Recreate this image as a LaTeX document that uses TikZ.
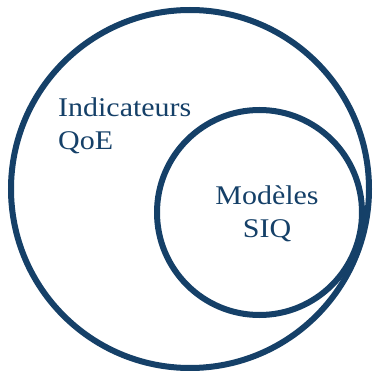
\documentclass[tikz,border=0pt]{standalone}
\usepackage{fontspec}
\setmainfont[FakeStretch=1.11]{Liberation Serif}
\definecolor{navy}{RGB}{21,64,104}
\begin{document}
\begin{tikzpicture}[x=1pt,y=1pt,
  ring/.style={draw=navy,line width=6pt},
  lbl/.style={text=navy,font=\fontsize{27}{33}\selectfont,inner sep=0pt}]
\useasboundingbox (0,0) rectangle (375,370);
\fill[white] (0,0) rectangle (375,370);
\draw[ring] (190,181) circle (179);
\draw[ring] (259.5,157.5) circle (102.5);
\node[lbl,align=left,anchor=north west] (qoe) at (58,272) {Indicateurs\\QoE};
\node[lbl,align=center,anchor=north] (siq) at (267,184) {Modèles\\SIQ};
\end{tikzpicture}
\end{document}
